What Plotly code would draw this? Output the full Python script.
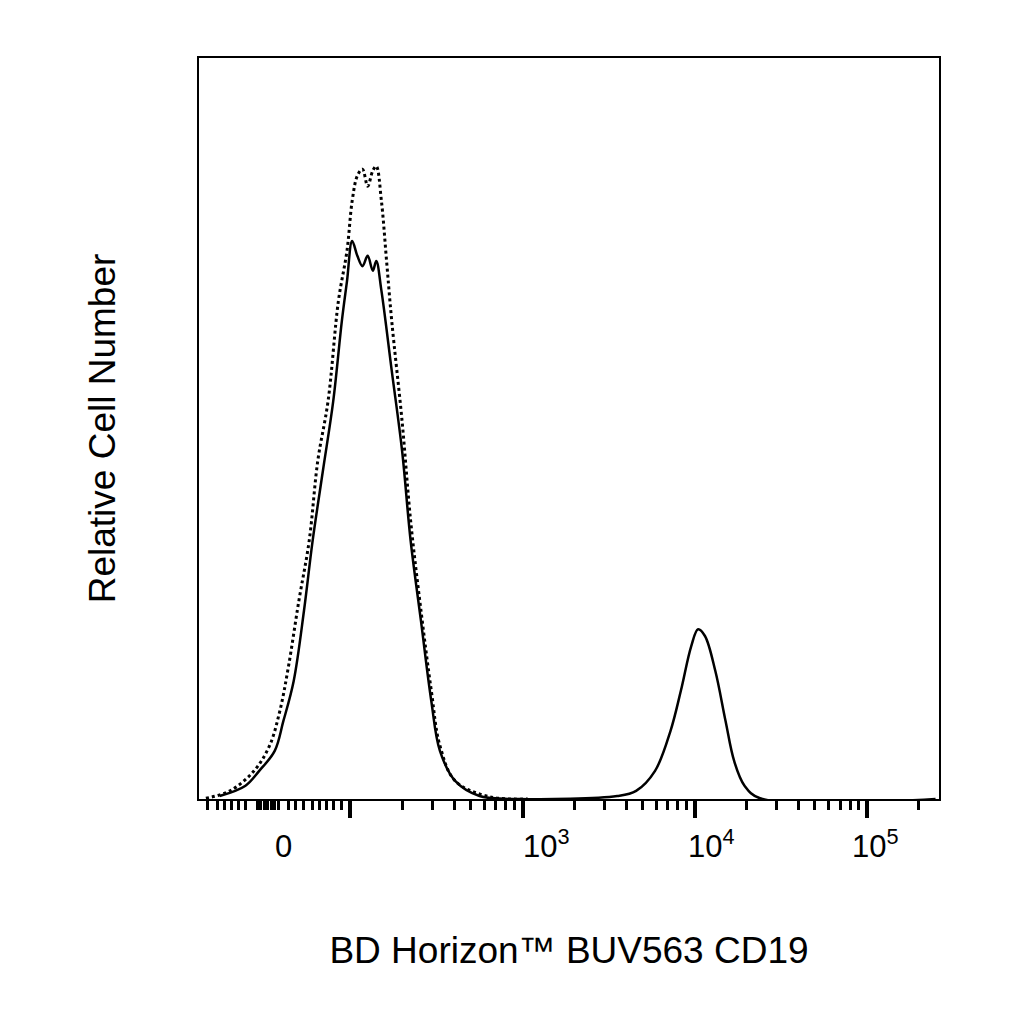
import numpy as np
import plotly.graph_objects as go

# eje x en "decadas" de la escala biexponencial (2 = 10^2, 3 = 10^3 ...)
solid_x = [1.24, 1.39, 1.47, 1.56, 1.61, 1.67, 1.73, 1.78, 1.84, 1.90, 1.95, 1.98, 2.01, 2.04,
           2.07, 2.10, 2.13, 2.15, 2.18, 2.24, 2.30, 2.35, 2.41, 2.47, 2.52, 2.61, 2.75, 2.98,
           3.55, 3.66, 3.77, 3.86, 3.92, 3.98, 4.02, 4.06, 4.12, 4.18, 4.23, 4.29, 4.38, 5.40]
solid_y = [0.4, 1.8, 3.8, 6.5, 10.5, 15.9, 25.4, 34.8, 44.3, 53.7, 64.5, 69.9, 75.3, 73.3,
           71.9, 73.3, 71.3, 72.6, 68.6, 57.8, 47.0, 34.8, 24.0, 13.2, 6.5, 2.4, 0.4, 0.0,
           0.4, 1.1, 3.8, 9.2, 14.6, 20.6, 22.9, 22.0, 17.3, 10.5, 5.1, 1.8, 0.1, 0.0]

dot_x = [1.16, 1.30, 1.44, 1.53, 1.59, 1.64, 1.70, 1.76, 1.81, 1.87, 1.93, 1.98, 2.01, 2.04,
         2.07, 2.10, 2.13, 2.15, 2.18, 2.21, 2.24, 2.30, 2.35, 2.41, 2.47, 2.52, 2.61, 2.81,
         3.03]
dot_y = [0.1, 1.1, 3.8, 7.2, 11.9, 17.9, 26.7, 34.8, 45.6, 53.7, 67.2, 74.0, 80.7, 84.1,
         85.0, 82.7, 84.8, 85.4, 80.7, 72.6, 64.5, 51.0, 37.5, 25.4, 14.6, 7.2, 2.4, 0.3,
         0.0]

major_ticks = [2, 3, 4, 5]
tick_labels = ["0", "10<sup>3</sup>", "10<sup>4</sup>", "10<sup>5</sup>"]
label_pos = [1.61, 3.14, 4.10, 5.05]

low_minor = [1.17, 1.23, 1.27, 1.31, 1.35, 1.39, 1.46, 1.48, 1.50, 1.52, 1.54, 1.56, 1.58,
             1.64, 1.68, 1.73, 1.78, 1.82, 1.86, 1.90, 1.95]
log_minor = [d + np.log10(k) for d in [2, 3, 4, 5] for k in range(2, 10)]
minor_ticks = [v for v in low_minor + log_minor if v < 5.42]

fig = go.Figure()
fig.add_trace(go.Scatter(x=dot_x, y=dot_y, mode="lines",
                         line=dict(color="black", width=3, dash="dot"), line_shape="spline"))
fig.add_trace(go.Scatter(x=solid_x, y=solid_y, mode="lines",
                         line=dict(color="black", width=2.5), line_shape="spline"))

for pos, txt in zip(label_pos, tick_labels):
    fig.add_annotation(x=pos, y=-0.09, xref="x", yref="paper", text=txt, showarrow=False,
                       font=dict(size=31, color="black"))

fig.update_layout(
    width=1024, height=1024,
    margin=dict(l=191, r=93, t=50, b=233),
    plot_bgcolor="white", paper_bgcolor="white",
    showlegend=False,
    font=dict(family="Liberation Sans, Arial", color="black"),
    xaxis=dict(range=[1.12, 5.42], tickvals=major_ticks, ticktext=["", "", "", ""],
               ticks="outside", ticklen=17, tickwidth=4, tickcolor="black",
               minor=dict(tickvals=minor_ticks, ticks="outside", ticklen=9, tickwidth=2.5,
                          tickcolor="black"),
               showgrid=False, zeroline=False, showline=True, linecolor="black", linewidth=2,
               mirror=True,
               title=dict(text="BD Horizon™ BUV563 CD19", font=dict(size=37), standoff=118)),
    yaxis=dict(range=[0, 100], showticklabels=False, ticks="", showgrid=False, zeroline=False,
               showline=True, linecolor="black", linewidth=2, mirror=True,
               title=dict(text="Relative Cell Number", font=dict(size=37), standoff=70)),
)

fig.write_html("out.html")
